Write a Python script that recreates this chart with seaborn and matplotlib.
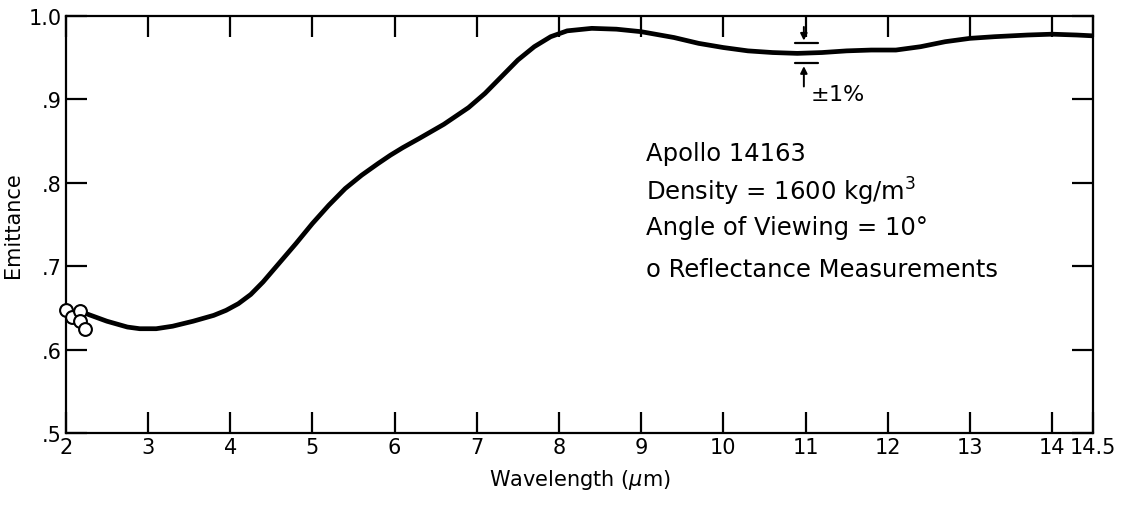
import numpy as np
import pandas as pd
import matplotlib
matplotlib.use('Agg')
import matplotlib.pyplot as plt
import seaborn as sns

# Emittance curve
wavelength = [2.0, 2.25, 2.5, 2.75, 2.9, 3.1, 3.3, 3.55, 3.8, 3.95, 4.1, 4.25, 4.4, 4.6, 4.8,
              5.0, 5.2, 5.4, 5.6, 5.8, 5.95, 6.1, 6.3, 6.6, 6.9, 7.1, 7.3, 7.5, 7.7, 7.9,
              8.1, 8.4, 8.7, 9.0, 9.4, 9.7, 10.0, 10.3, 10.6, 10.9, 11.2, 11.5, 11.8,
              12.1, 12.4, 12.7, 13.0, 13.3, 13.7, 14.0, 14.3, 14.5]
emittance = [0.647, 0.643, 0.634, 0.627, 0.625, 0.625, 0.628, 0.634, 0.641, 0.647, 0.655,
             0.666, 0.681, 0.704, 0.727, 0.751, 0.773, 0.793, 0.809, 0.823, 0.833, 0.842,
             0.853, 0.870, 0.890, 0.907, 0.927, 0.947, 0.963, 0.975, 0.982, 0.985, 0.984,
             0.981, 0.974, 0.967, 0.962, 0.958, 0.956, 0.955, 0.956, 0.958, 0.959, 0.959,
             0.963, 0.969, 0.973, 0.975, 0.977, 0.978, 0.977, 0.976]

# Reflectance measurements (open circles)
refl_x = [2.0, 2.08, 2.17, 2.17, 2.24]
refl_y = [0.647, 0.639, 0.646, 0.634, 0.625]

x_ticks = [2, 3, 4, 5, 6, 7, 8, 9, 10, 11, 12, 13, 14, 14.5]
x_labels = ['2', '3', '4', '5', '6', '7', '8', '9', '10', '11', '12', '13', '14', '14.5']
y_ticks = [0.5, 0.6, 0.7, 0.8, 0.9, 1.0]
y_labels = ['.5', '.6', '.7', '.8', '.9', '1.0']

curve = pd.DataFrame({'Wavelength': wavelength, 'Emittance': emittance})
refl = pd.DataFrame({'Wavelength': refl_x, 'Emittance': refl_y})

sns.set_style('ticks')
plt.rcParams['font.family'] = ['DejaVu Sans']
plt.rcParams['text.color'] = 'black'
plt.rcParams['axes.labelcolor'] = 'black'
plt.rcParams['xtick.color'] = 'black'
plt.rcParams['ytick.color'] = 'black'
plt.rcParams['axes.edgecolor'] = 'black'

fig = plt.figure(figsize=(11.34, 5.10), dpi=100)
ax = fig.add_axes([0.058, 0.149, 0.906, 0.818])

sns.lineplot(data=curve, x='Wavelength', y='Emittance', ax=ax, color='black',
             linewidth=3.4, solid_capstyle='round', solid_joinstyle='round')
sns.scatterplot(data=refl, x='Wavelength', y='Emittance', ax=ax, s=85,
                facecolor='white', edgecolor='black', linewidth=1.5, zorder=5, clip_on=False)

ax.set_xlim(2, 14.5)
ax.set_ylim(0.5, 1.0)
ax.set_xticks(x_ticks)
ax.set_xticklabels(x_labels, fontsize=15)
ax.set_yticks(y_ticks)
ax.set_yticklabels(y_labels, fontsize=15)
ax.tick_params(direction='in', length=15, width=1.6, top=True, right=True, pad=3)
for s in ax.spines.values():
    s.set_linewidth(1.6)
    s.set_visible(True)

ax.set_xlabel('Wavelength ($\\mu$m)', fontsize=15, labelpad=7)
ax.set_ylabel('Emittance', fontsize=15, labelpad=4)

# +-1% marker near 11 um
ax.plot([10.87, 11.15], [0.967, 0.967], color='black', lw=1.6)
ax.plot([10.87, 11.15], [0.943, 0.943], color='black', lw=1.6)
ax.annotate('', xy=(10.98, 0.967), xytext=(10.98, 0.99),
            arrowprops=dict(arrowstyle='-|>', color='black', lw=1.4, mutation_scale=10))
ax.annotate('', xy=(10.98, 0.943), xytext=(10.98, 0.912),
            arrowprops=dict(arrowstyle='-|>', color='black', lw=1.4, mutation_scale=10))
ax.text(11.05, 0.906, '$\\pm$1%', fontsize=16, va='center', ha='left')

# descriptive text block
tx = 9.06
ax.text(tx, 0.835, 'Apollo 14163', fontsize=17.5, va='center')
ax.text(tx, 0.790, 'Density = 1600 kg/m$^3$', fontsize=17.5, va='center')
ax.text(tx, 0.747, 'Angle of Viewing = 10°', fontsize=17.5, va='center')
ax.text(tx, 0.697, 'o Reflectance Measurements', fontsize=17.5, va='center')

plt.savefig('out.png', dpi=100)
